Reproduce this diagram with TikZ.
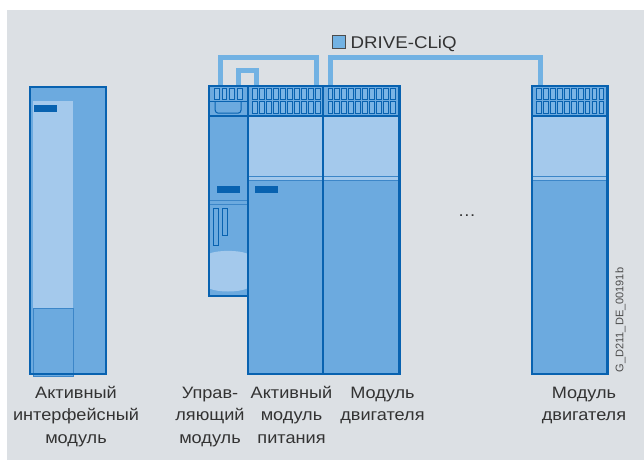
\documentclass[tikz,border=0pt]{standalone}
\usepackage{fontspec}
\setmainfont{Liberation Sans}
\newfontfamily\capfont{Liberation Sans}[FakeStretch=1.1]
\usetikzlibrary{calc}

\definecolor{panelgray}{HTML}{DCE0E4}
\definecolor{edgeblue}{HTML}{0862B0}
\definecolor{midedge}{HTML}{3C86C8}
\definecolor{bodyblue}{HTML}{6CAADF}
\definecolor{paleblue}{HTML}{A4C9EC}
\definecolor{slotblue}{HTML}{7AB4E5}
\definecolor{cliqblue}{HTML}{72B2E3}
\definecolor{captiongray}{HTML}{333333}

\tikzset{
  unitbody/.style={fill=bodyblue, inner sep=0pt, outer sep=0pt, anchor=north west},
  frame/.style={draw=edgeblue, line width=2.3pt},
  sepline/.style={draw=edgeblue, line width=2.2pt},
  thinline/.style={draw=midedge, line width=1.1pt},
  slot/.style={draw=edgeblue, line width=0.8pt, fill=slotblue},
  tagbar/.style={fill=edgeblue},
  cliq/.style={draw=cliqblue, line width=5pt},
  caption/.style={anchor=base, align=center, inner sep=0pt, text=captiongray,
    font=\capfont\fontsize{16.5}{22.5}\selectfont},
}

\begin{document}
\begin{tikzpicture}[x=1pt, y=-1pt]
\useasboundingbox (0,0) rectangle (644,460);
\fill[panelgray] (7,10) rectangle (644,460);

% DRIVE-CLiQ ports on the module tops
\coordinate (cuA) at (220,88);
\coordinate (cuB) at (238.5,88);
\coordinate (almA) at (256.5,88);
\coordinate (almB) at (316,88);
\coordinate (mmA) at (330.8,88);
\coordinate (mmB) at (540,88);

% DRIVE-CLiQ cabling, drawn first so the module tops cover the cable ends
\draw[cliq] (cuA) -- ++(0,-31) -| (almB);
\draw[cliq] (cuB) -- ++(0,-17.5) -| (almA);
\draw[cliq] (mmA) -- ++(0,-31) -| (mmB);

% module bodies
\node[unitbody, minimum width=76, minimum height=287] (aim) at (30,87) {};
\node[unitbody, minimum width=39, minimum height=209.5] (cu) at (209,86.2) {};
\node[unitbody, minimum width=75.3, minimum height=287.6] (alm) at (248,86.2) {};
\node[unitbody, minimum width=76.2, minimum height=287.6] (mm1) at (323.3,86.2) {};
\node[unitbody, minimum width=75.7, minimum height=287.6] (mm2) at (531.8,86.2) {};

% active interface module: front panel, bottom cover and tag
\fill[paleblue] (33,101) rectangle (73,308);
\draw[midedge, line width=1pt, fill=bodyblue] (33.8,308.5) rectangle (73,376);
\fill[tagbar] (34,105) rectangle (57,112);

% light front section and double line of the power units
\foreach \l/\r in {248/323.3, 323.3/399.5, 531.8/607.5} {
  \fill[paleblue] (\l,116) rectangle (\r,180.5);
  \draw[thinline] (\l,176.6) -- (\r,176.6);
  \draw[thinline] (\l,180.6) -- (\r,180.6);
  \draw[sepline] (\l,116) -- (\r,116);
  \foreach \i in {0,...,9} {
    \draw[slot] ({\l+4.6+\i*6.95},88.6) rectangle ++(4.8,10.8);
    \draw[slot] ({\l+4.6+\i*6.95},101.2) rectangle ++(4.8,12.4);
  }
}
\fill[tagbar] (255,186) rectangle (277.7,193);

% control unit: header with four sockets and a cover recess
\foreach \i in {0,...,3}
  \draw[slot] ({214+\i*7.9},88.8) rectangle ++(4.9,10.5);
\draw[thinline, draw=edgeblue] (209,101.6) -- (248,101.6);
\draw[edgeblue, line width=1pt, rounded corners=3pt] (215.2,101.6) -- (215.2,113.2) -- (241,113.2) -- (241,101.6);
\draw[sepline] (209,116) -- (248,116);
% control unit: tag, double line, slots and memory card window
\fill[tagbar] (216.7,186) rectangle (240,192.7);
\draw[thinline] (209,200.7) -- (248,200.7);
\draw[thinline] (209,204.2) -- (248,204.2);
\draw[slot, fill=bodyblue] (213.3,208.3) rectangle (218.7,245);
\draw[slot, fill=bodyblue] (222.3,208.3) rectangle (227.7,235.7);
\fill[paleblue] (209.5,253.5) .. controls (218,250) and (238,250) .. (247,253.5)
  -- (247,288.5) .. controls (238,292.5) and (218,292.5) .. (209.5,288.5) -- cycle;

% outlines on top of everything inside the modules
\foreach \m in {aim, cu, alm, mm1, mm2}
  \draw[frame] (\m.north west) rectangle (\m.south east);

% legend
\node[draw=black!70, line width=0.8pt, fill=cliqblue, minimum size=12.5pt,
  inner sep=0pt] (key) at (338.7,41.8) {};
\node[anchor=base west, inner sep=0pt, text=captiongray,
  font=\capfont\fontsize{17}{20}\selectfont] (keytext) at (350.5,48.3) {DRIVE-CLiQ};

% ellipsis between the motor modules
\node[anchor=base, inner sep=0pt, text=captiongray,
  font=\capfont\fontsize{16.5}{20}\selectfont] (dots) at (467,216) {…};

% drawing number
\node[rotate=90, inner sep=0pt, text=black!70,
  font=\fontsize{11}{13}\selectfont] (docno) at (620.5,320) {G\_D211\_DE\_00191b};

% captions (the base anchor sits on the last line)
\node[caption] (aimcap) at (76,443) {Активный\\интерфейсный\\модуль};
\node[caption] (cucap) at (210,443) {Управ-\\ляющий\\модуль};
\node[caption] (almcap) at (291.5,443) {Активный\\модуль\\питания};
\node[caption] (mm1cap) at (382.5,420.5) {Модуль\\двигателя};
\node[caption] (mm2cap) at (584,420.5) {Модуль\\двигателя};
\end{tikzpicture}
\end{document}
